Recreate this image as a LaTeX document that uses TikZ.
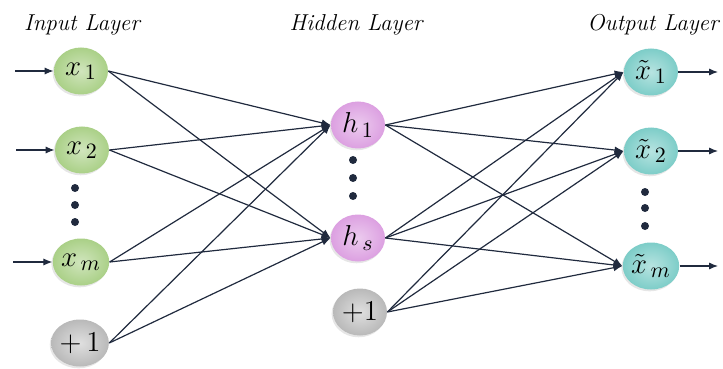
\documentclass[tikz,border=0pt]{standalone}
\usepackage{tikz}
\usetikzlibrary{arrows.meta,positioning,shapes.geometric,shadows}
\usepackage{amsmath}
\usepackage{xcolor}
\definecolor{linkcol}{RGB}{32,42,62}
\definecolor{ingreen}{RGB}{170,208,135}
\definecolor{hidpink}{RGB}{220,160,225}
\definecolor{outcyan}{RGB}{125,205,200}
\definecolor{biasgrey}{RGB}{185,185,185}
\tikzset{
  neuron/.style={ellipse, draw=none, inner sep=0pt, minimum width=27pt, minimum height=23.5pt, font=\fontsize{15}{18}\selectfont, drop shadow={opacity=0.2, shadow xshift=-0.7pt, shadow yshift=-0.9pt}},
  innode/.style={neuron, inner color=ingreen!55!white, outer color=ingreen},
  hidnode/.style={neuron, inner color=hidpink!55!white, outer color=hidpink},
  outnode/.style={neuron, inner color=outcyan!55!white, outer color=outcyan},
  biasnode/.style={neuron, inner color=biasgrey!45!white, outer color=biasgrey, font=\fontsize{14}{16}\selectfont},
  dot/.style={circle, fill=linkcol, inner sep=0pt, minimum size=4pt},
  layer/.style={font=\fontsize{11.5}{13}\selectfont\itshape, inner sep=0pt},
  arr/.style={-{Latex[length=4.5pt,width=3.6pt]}, draw=linkcol, line width=0.6pt}
}
\begin{document}
\begin{tikzpicture}[x=0.5pt, y=-0.5pt]
\useasboundingbox (0,0) rectangle (723,369);

\node[layer] (inlabel) at (82,25) {Input Layer};
\node[layer] (hidlabel) at (356,25) {Hidden Layer};
\node[layer] (outlabel) at (653,25) {Output Layer};

\node[innode] (in1) at (81,71) {$x_{\,1}$};
\node[innode] (in2) at (82,150) {$x_{\,2}$};
\node[dot] (indot1) at (75,188) {};
\node[dot] (indot2) at (75,205) {};
\node[dot] (indot3) at (75,222) {};
\node[innode] (inm) at (81,262) {$x_{\,m}$};
\node[biasnode] (inb) at (80,343) {$+\,1$};

\node[hidnode] (hid1) at (358,125) {$h_{\,1}$};
\node[dot] (hiddot1) at (353,160) {};
\node[dot] (hiddot2) at (353,178) {};
\node[dot] (hiddot3) at (353,196) {};
\node[hidnode] (hids) at (358,238) {$h_{\,s}$};
\node[biasnode] (hidb) at (360,312) {$+1$};

\node[outnode] (out1) at (651,72) {$\tilde{x}_{\,1}$};
\node[outnode] (out2) at (651,151) {$\tilde{x}_{\,2}$};
\node[dot] (outdot1) at (645,192) {};
\node[dot] (outdot2) at (645,208) {};
\node[dot] (outdot3) at (645,226) {};
\node[outnode] (outm) at (651,266) {$\tilde{x}_{\,m}$};

\coordinate (src1) at (15,71);
\coordinate (src2) at (16,150);
\coordinate (srcm) at (13,262);
\coordinate (dst1) at (718,72);
\coordinate (dst2) at (718,151);
\coordinate (dstm) at (718,266);

\draw[arr] (src1) -- (in1.west);
\draw[arr] (src2) -- (in2.west);
\draw[arr] (srcm) -- (inm.west);

\draw[arr] (in1.east) -- (hid1.west);
\draw[arr] (in1.east) -- (hids.west);
\draw[arr] (in2.east) -- (hid1.west);
\draw[arr] (in2.east) -- (hids.west);
\draw[arr] (inm.east) -- (hid1.west);
\draw[arr] (inm.east) -- (hids.west);
\draw[arr] (inb.east) -- (hid1.west);
\draw[arr] (inb.east) -- (hids.west);

\draw[arr] (hid1.east) -- (out1.west);
\draw[arr] (hid1.east) -- (out2.west);
\draw[arr] (hid1.east) -- (outm.west);
\draw[arr] (hids.east) -- (out1.west);
\draw[arr] (hids.east) -- (out2.west);
\draw[arr] (hids.east) -- (outm.west);
\draw[arr] (hidb.east) -- (out1.west);
\draw[arr] (hidb.east) -- (out2.west);
\draw[arr] (hidb.east) -- (outm.west);

\draw[arr] (out1.east) -- (dst1);
\draw[arr] (out2.east) -- (dst2);
\draw[arr] (outm.east) -- (dstm);
\end{tikzpicture}
\end{document}
